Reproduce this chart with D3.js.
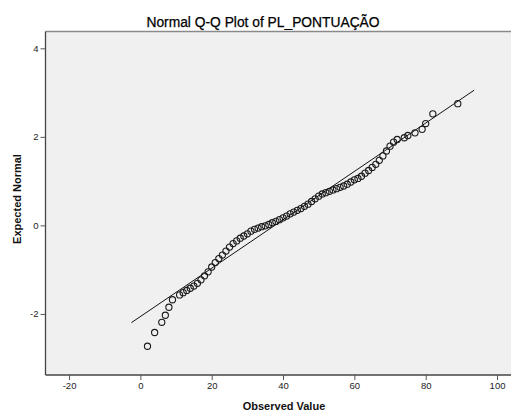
<!DOCTYPE html>
<html><head><meta charset="utf-8">
<script src="https://cdn.jsdelivr.net/npm/d3@7"></script>
<style>
body{margin:0;background:#fff;}
svg{display:block;font-family:"Liberation Sans",Arial,sans-serif;}
</style></head>
<body>
<svg id="c" width="511" height="411"></svg>
<script>
const observed = [2,4,6,7,8,9,11,12,13,14,15,16,17,18,19,20,21,22,23,24,25,26,27,28,29,30,31,32,33,34,35,36,37,38,39,40,41,42,43,44,45,46,47,48,49,50,51,52,53,54,55,56,57,58,59,60,61,62,63,64,65,66,67,68,69,70,71,72,74,75,77,79,80,82,89];
const expected = [-2.73,-2.42,-2.19,-2.03,-1.85,-1.68,-1.57,-1.52,-1.47,-1.42,-1.37,-1.31,-1.23,-1.14,-1.05,-0.94,-0.84,-0.75,-0.67,-0.58,-0.49,-0.41,-0.35,-0.29,-0.24,-0.19,-0.13,-0.09,-0.06,-0.03,-0.01,0.02,0.06,0.09,0.13,0.17,0.21,0.26,0.30,0.34,0.38,0.43,0.48,0.54,0.60,0.66,0.71,0.74,0.77,0.80,0.83,0.86,0.89,0.93,0.98,1.03,1.06,1.11,1.18,1.24,1.31,1.38,1.47,1.57,1.68,1.79,1.88,1.94,1.98,2.03,2.09,2.17,2.30,2.52,2.75];
const refLineX = [-2.5, 93.6];
const refMean = 37.7, refSD = 18.3;
const xTicks = [-20,0,20,40,60,80,100];
const yTicks = [-2,0,2,4];
const title = "Normal Q-Q Plot of PL_PONTUAÇÃO";
const xLabel = "Observed Value";
const yLabel = "Expected Normal";

const svg = d3.select("#c");
const L=45.5, R=512, T=31.5, B=375;
const x = d3.scaleLinear().domain([-26.6,104.2]).range([L,R]);
const y = d3.scaleLinear().domain([-3.38,4.38]).range([B,T]);

svg.append("rect").attr("x",L).attr("y",T).attr("width",R-L).attr("height",B-T).attr("fill","#f0f0f0");
svg.append("line").attr("x1",L).attr("x2",R).attr("y1",T).attr("y2",T).attr("stroke","#8a8a8a").attr("stroke-width",1.3);

const xa = svg.append("g").attr("transform",`translate(0,${B})`)
  .call(d3.axisBottom(x).tickValues(xTicks).tickSize(5).tickPadding(2).tickFormat(d=>String(d)));
const ya = svg.append("g").attr("transform",`translate(${L},0)`)
  .call(d3.axisLeft(y).tickValues(yTicks).tickSize(5).tickPadding(2).tickFormat(d=>String(d)));
[xa,ya].forEach(a=>{
  a.select(".domain").attr("stroke","#444").attr("stroke-width",1.3);
  a.selectAll(".tick line").attr("stroke","#555");
  a.selectAll(".tick text").attr("fill","#222").style("font-size","9.5px").style("font-family","'Liberation Sans',Arial,sans-serif");
});
xa.select(".domain").attr("d",`M${L},0H${R}`);
ya.select(".domain").attr("d",`M0,${T}V${B}`);

svg.append("line")
  .attr("x1",x(refLineX[0])).attr("y1",y((refLineX[0]-refMean)/refSD))
  .attr("x2",x(refLineX[1])).attr("y2",y((refLineX[1]-refMean)/refSD))
  .attr("stroke","#111").attr("stroke-width",1);

svg.append("g").selectAll("circle").data(observed).join("circle")
  .attr("cx",d=>x(d)).attr("cy",(d,i)=>y(expected[i])).attr("r",3.1)
  .attr("fill","none").attr("stroke","#1a1a1a").attr("stroke-width",1.1);

svg.append("text").attr("x",263).attr("y",26.5).attr("text-anchor","middle")
  .style("font-size","13.8px").attr("fill","#000").attr("stroke","#000").attr("stroke-width",0.25).text(title);
svg.append("text").attr("x",284).attr("y",409.5).attr("text-anchor","middle")
  .style("font-size","11px").style("font-weight","bold").attr("fill","#111").text(xLabel);
svg.append("text").attr("transform","translate(21,199) rotate(-90)").attr("text-anchor","middle")
  .style("font-size","11px").style("font-weight","bold").attr("fill","#111").text(yLabel);
</script>
</body></html>
